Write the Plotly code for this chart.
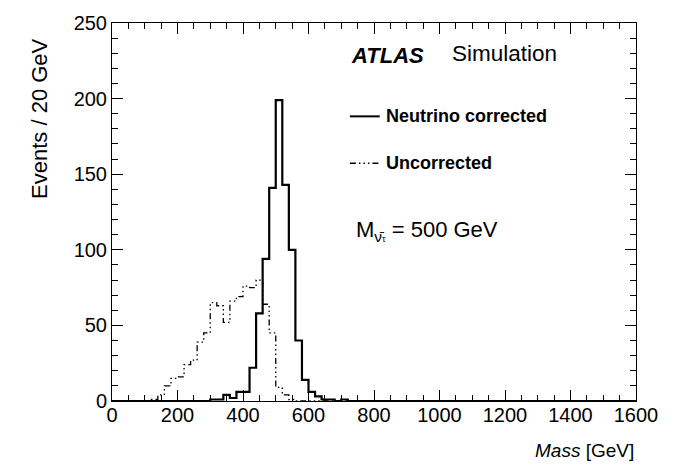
import numpy as np
import plotly.graph_objects as go

# ---- data ----
bin_width = 20
solid_start = 300
solid_counts = [1, 1, 4, 2, 6, 6, 22, 58, 94, 141, 199, 143, 100, 40, 14, 6, 3, 1, 1, 0, 1, 0]
dash_start = 100
dash_counts = [0, 1, 4, 10, 15, 16, 24, 27, 39, 45, 65, 63, 52, 66, 69, 76, 75, 80, 64, 45, 9, 4, 1, 0]
x_ticks = [0, 200, 400, 600, 800, 1000, 1200, 1400, 1600]
y_ticks = [0, 50, 100, 150, 200, 250]
series_names = ["Neutrino corrected", "Uncorrected"]


def step_xy(start, counts, lo=0, hi=1600):
    edges = start + bin_width * np.arange(len(counts) + 1)
    xs = [lo] + list(edges) + [hi]
    ys = [0] + list(counts) + [0, 0]
    return xs, ys


FONT = "Liberation Sans, Arial, Helvetica, sans-serif"
DASH = "6px,3px,1.5px,3px,1.5px,3px,1.5px,3px"

fig = go.Figure()
xd, yd = step_xy(dash_start, dash_counts)
fig.add_trace(go.Scatter(x=xd, y=yd, mode="lines", line_shape="hv",
                         line=dict(color="black", width=1.3, dash=DASH),
                         name=series_names[1], showlegend=False))
xs, ys = step_xy(solid_start, solid_counts)
fig.add_trace(go.Scatter(x=xs, y=ys, mode="lines", line_shape="hv",
                         line=dict(color="black", width=2.2),
                         name=series_names[0], showlegend=False))

axis_common = dict(showline=True, linecolor="black", linewidth=1, mirror="allticks",
                   ticks="inside", ticklen=11, tickwidth=1, tickcolor="black",
                   showgrid=False, zeroline=False,
                   tickfont=dict(family=FONT, size=20, color="black"))
fig.update_xaxes(range=[0, 1600], tickvals=x_ticks, ticktext=[str(v) for v in x_ticks],
                 ticklabelstandoff=-4,
                 minor=dict(dtick=50, ticks="inside", ticklen=6, tickcolor="black", showgrid=False),
                 **axis_common)
fig.update_yaxes(range=[0, 250], tickvals=y_ticks, ticktext=[str(v) for v in y_ticks],
                 minor=dict(dtick=10, ticks="inside", ticklen=6, tickcolor="black", showgrid=False),
                 **axis_common)

ann = []
# titles
ann.append(dict(text="Events / 20 GeV", xref="paper", yref="paper", x=-0.137, y=0.965,
                xanchor="center", yanchor="top", textangle=-90, showarrow=False,
                font=dict(family=FONT, size=22, color="black")))
ann.append(dict(text="<i>Mass</i> [GeV]", xref="paper", yref="paper", x=1.0, y=-0.131,
                xanchor="right", yanchor="middle", showarrow=False,
                font=dict(family=FONT, size=19, color="black")))
# ATLAS Simulation
ann.append(dict(text="<b><i>ATLAS</i></b>", xref="paper", yref="paper", x=0.452, y=0.915,
                xanchor="left", yanchor="middle", showarrow=False,
                font=dict(family=FONT, size=22, color="black")))
ann.append(dict(text="Simulation", xref="paper", yref="paper", x=0.645, y=0.918,
                xanchor="left", yanchor="middle", showarrow=False,
                font=dict(family=FONT, size=22.5, color="black")))
# legend texts
leg_y = [0.753, 0.629]
for name, yy in zip(series_names, leg_y):
    ann.append(dict(text="<b>" + name + "</b>", xref="paper", yref="paper", x=0.519, y=yy,
                    xanchor="left", yanchor="middle", showarrow=False,
                    font=dict(family=FONT, size=18, color="black")))
# mass label
ann.append(dict(text="M<sub>ν̄<span style='font-size:9px'>τ</span></sub> = 500 GeV",
                xref="paper", yref="paper", x=0.462, y=0.45,
                xanchor="left", yanchor="middle", showarrow=False,
                font=dict(family=FONT, size=22, color="black")))

shapes = [
    dict(type="line", xref="paper", yref="paper", x0=0.454, x1=0.511, y0=leg_y[0], y1=leg_y[0],
         line=dict(color="black", width=2)),
    dict(type="line", xref="paper", yref="paper", x0=0.454, x1=0.511, y0=leg_y[1], y1=leg_y[1],
         line=dict(color="black", width=1.3, dash=DASH)),
]

fig.update_layout(width=683, height=468, margin=dict(l=112, r=47, t=13, b=67),
                  paper_bgcolor="white", plot_bgcolor="white",
                  annotations=ann, shapes=shapes, showlegend=False,
                  font=dict(family=FONT, color="black"))

fig.write_html("out.html")
